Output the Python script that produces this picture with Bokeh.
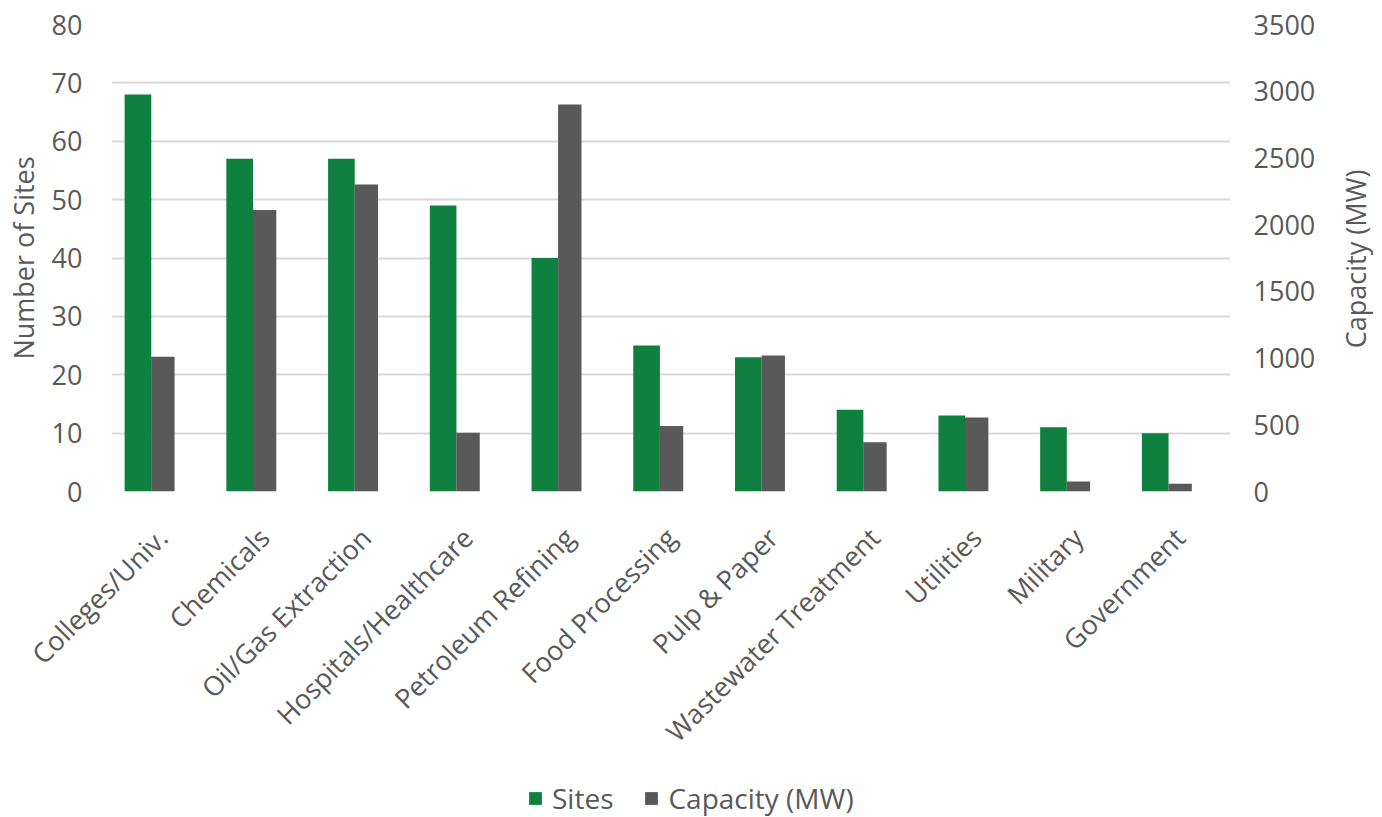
import math
from bokeh.plotting import figure
from bokeh.layouts import column, row
from bokeh.models import (Range1d, LinearAxis, Legend, LegendItem,
                          SingleIntervalTicker, ColumnDataSource)
from bokeh.core.properties import value
from bokeh.transform import dodge
from bokeh.embed import file_html
from bokeh.resources import INLINE

categories = ["Colleges/Univ.", "Chemicals", "Oil/Gas Extraction", "Hospitals/Healthcare",
              "Petroleum Refining", "Food Processing", "Pulp & Paper", "Wastewater Treatment",
              "Utilities", "Military", "Government"]
sites = [68, 57, 57, 49, 40, 25, 23, 14, 13, 11, 10]
capacity_mw = [1010, 2110, 2300, 440, 2900, 490, 1020, 370, 555, 75, 58]
left_title = "Number of Sites"
right_title = "Capacity (MW)"

FONT = "Open Sans"
TXT = "#595959"
GREEN = "#0f8040"
GREY = "#595959"
FS = "27px"

# layout geometry (pixels)
W, H = 1382, 817
FL, FR, FT, FB = 111, 1230, 24, 491   # plot frame edges
TOP_H = FB + 22
RIGHT_W = 48
CW = (FR - FL) / len(categories)

src = ColumnDataSource(dict(cat=categories, sites=sites, cap=capacity_mw,
                            pos=[i + 0.5 for i in range(len(categories))]))

# ---- main chart ----
p = figure(x_range=categories, y_range=Range1d(0, 80), width=W - RIGHT_W, height=TOP_H,
           output_backend="svg", toolbar_location=None,
           min_border_left=FL, min_border_right=W - RIGHT_W - FR, min_border_top=FT,
           min_border_bottom=TOP_H - FB)
p.extra_y_ranges = {"cap": Range1d(0, 3500)}

r1 = p.vbar(x=dodge("cat", -0.24, range=p.x_range), top="sites", width=0.262,
            source=src, fill_color=GREEN, line_color=None)
r2 = p.vbar(x=dodge("cat", 0.005, range=p.x_range), top="cap", width=0.23,
            source=src, fill_color=GREY, line_color=None, y_range_name="cap")

p.outline_line_color = None
p.xgrid.grid_line_color = None
p.ygrid.grid_line_color = "#d9d9d9"
p.ygrid.grid_line_width = 2
p.xaxis.visible = False

ya = p.yaxis[0]
ya.ticker = SingleIntervalTicker(interval=10)
ya.axis_label = left_title
ya.major_label_standoff = 23
ya.axis_label_standoff = 7

ra = LinearAxis(y_range_name="cap", ticker=SingleIntervalTicker(interval=500))
ra.major_label_standoff = 17
p.add_layout(ra, "right")

for ax in [ya, ra]:
    ax.major_label_text_font = FONT
    ax.major_label_text_font_size = FS
    ax.major_label_text_color = TXT
    ax.axis_label_text_font = FONT
    ax.axis_label_text_font_size = FS
    ax.axis_label_text_font_style = "normal"
    ax.axis_label_text_color = TXT
    ax.major_tick_line_color = None
    ax.minor_tick_line_color = None
    ax.axis_line_color = None

# ---- right axis title strip ----
rt = figure(x_range=Range1d(0, RIGHT_W), y_range=Range1d(0, TOP_H), width=RIGHT_W,
            height=TOP_H, output_backend="svg", toolbar_location=None,
            min_border=0)
rt.axis.visible = False
rt.grid.grid_line_color = None
rt.outline_line_color = None
rt.text(x=[1355 - (W - RIGHT_W)], y=[TOP_H - (FT + FB) / 2], text=[right_title],
        angle=math.pi / 2, text_align="center", text_baseline="middle",
        text_font=value(FONT), text_font_size=FS, text_color=TXT)

# ---- category labels + legend strip ----
QH = H - TOP_H
q = figure(x_range=Range1d(-FL / CW, len(categories) + (W - FR) / CW),
           y_range=Range1d(0, QH), width=W, height=QH,
           output_backend="svg", toolbar_location=None, min_border=0)
q.axis.visible = False
q.grid.grid_line_color = None
q.outline_line_color = None

q.text(x="pos", y=QH - (532 - TOP_H), text="cat", source=src,
       angle=math.pi / 4, text_align="right", text_baseline="middle",
       text_font=value(FONT), text_font_size=FS, text_color=TXT)

k1 = q.vbar(x="pos", top="sites", width=0.2, source=src, fill_color=GREEN,
            line_color=None, visible=False)
k2 = q.vbar(x="pos", top="cap", width=0.2, source=src, fill_color=GREY,
            line_color=None, visible=False)
legend = Legend(items=[LegendItem(label="Sites", renderers=[k1]),
                       LegendItem(label="Capacity (MW)", renderers=[k2])],
                orientation="horizontal", location=(527, 0),
                label_text_font=FONT, label_text_font_size="28px",
                label_text_color=TXT, glyph_width=16, glyph_height=16,
                label_standoff=9, border_line_color=None, background_fill_alpha=0,
                inactive_fill_alpha=0, spacing=30, padding=0, margin=0)
q.add_layout(legend, "center")

layout = column(row(p, rt, spacing=0), q, spacing=0)
open("out.html", "w").write(file_html(layout, INLINE))
